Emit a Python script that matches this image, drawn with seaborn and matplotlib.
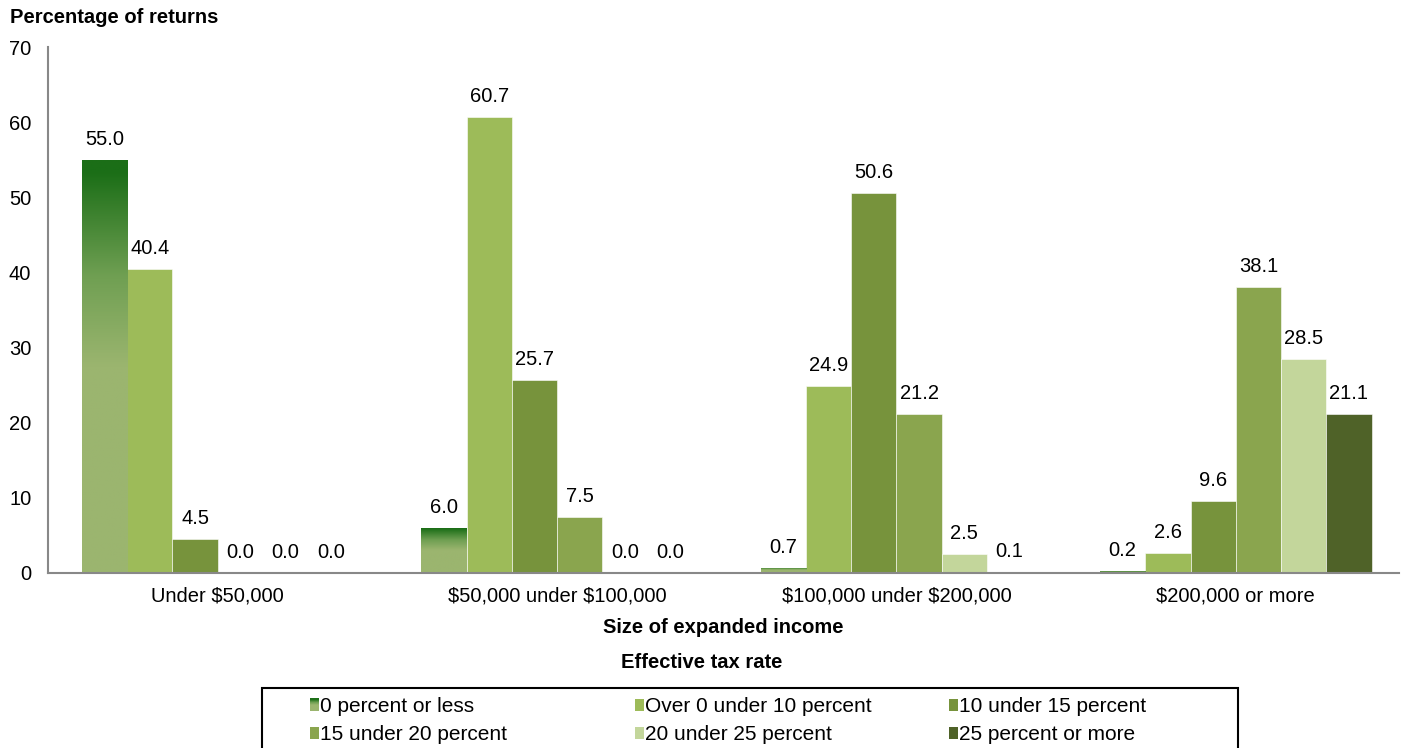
import numpy as np
import pandas as pd
import matplotlib
matplotlib.use("Agg")
import matplotlib.pyplot as plt
import seaborn as sns
from matplotlib.colors import LinearSegmentedColormap
from matplotlib.patches import Rectangle
from matplotlib.legend_handler import HandlerBase

categories = ["Under $50,000", "$50,000 under $100,000", "$100,000 under $200,000", "$200,000 or more"]
rates = ["0 percent or less", "Over 0 under 10 percent", "10 under 15 percent",
         "15 under 20 percent", "20 under 25 percent", "25 percent or more"]
v_0_or_less = [55.0, 6.0, 0.7, 0.2]
v_0_10 = [40.4, 60.7, 24.9, 2.6]
v_10_15 = [4.5, 25.7, 50.6, 9.6]
v_15_20 = [0.0, 7.5, 21.2, 38.1]
v_20_25 = [0.0, 0.0, 2.5, 28.5]
v_25_more = [0.0, 0.0, 0.1, 21.1]
yticks = [0, 10, 20, 30, 40, 50, 60, 70]

series = [v_0_or_less, v_0_10, v_10_15, v_15_20, v_20_25, v_25_more]
rows = []
for r, vals in zip(rates, series):
    for c, v in zip(categories, vals):
        rows.append({"cat": c, "rate": r, "val": v})
df = pd.DataFrame(rows)

colors = ["#9bb56f", "#9dbb59", "#77933c", "#8aa54e", "#c3d69b", "#4f6228"]
grad_cmap = LinearSegmentedColormap.from_list(
    "g", [(0.0, "#9bb56f"), (0.5, "#9bb56f"), (0.72, "#6f9f52"), (0.97, "#1b6e17"), (1.0, "#1b6e17")])

sns.set_style("white")
plt.rcParams["font.family"] = ["Liberation Sans", "DejaVu Sans"]
plt.rcParams["text.parse_math"] = False
plt.rcParams["text.color"] = "black"
plt.rcParams["axes.labelcolor"] = "black"
plt.rcParams["xtick.color"] = "black"
plt.rcParams["ytick.color"] = "black"

FS = 14.5

fig = plt.figure(figsize=(14.04, 7.48), dpi=100)
ax = fig.add_axes([0.0342, 0.234, 0.962, 0.703])

sns.barplot(data=df, x="cat", y="val", hue="rate", order=categories, hue_order=rates,
            palette=colors, width=0.8, saturation=1, ax=ax, legend=False,
            edgecolor="white", linewidth=0.4)

ax.set_yticks(yticks)
ax.tick_params(axis="y", direction="in", length=5, color="#888888", labelcolor="black",
               labelsize=FS, pad=12)
ax.tick_params(axis="x", length=0, labelsize=FS, pad=10, labelcolor="black")
for s in ["top", "right"]:
    ax.spines[s].set_visible(False)
for s in ["left", "bottom"]:
    ax.spines[s].set_color("#888888")
    ax.spines[s].set_linewidth(1.5)
ax.set_ylabel("")
ax.set_xlabel("Size of expanded income", fontsize=FS, fontweight="bold", labelpad=9)

grad = np.linspace(0, 1, 256).reshape(-1, 1)
for i, cont in enumerate(ax.containers):
    for bar in cont:
        h = bar.get_height()
        x0 = bar.get_x()
        w = bar.get_width()
        if i == 0 and h > 0:
            im = ax.imshow(grad, cmap=grad_cmap, aspect="auto", origin="lower",
                           extent=[x0, x0 + w, 0, h], zorder=bar.get_zorder() + 0.1)
            im.set_clip_path(bar)
        ax.annotate(f"{h:.1f}", (x0 + w / 2, h), xytext=(0, 8), textcoords="offset points",
                    ha="center", va="bottom", fontsize=FS)
ax.set_xlim(-0.5, 3.48)
ax.set_ylim(0, 70)

fig.text(0.007, 0.977, "Percentage of returns", fontsize=FS, fontweight="bold", ha="left", va="center")
fig.text(0.5, 1 - 663 / 748, "Effective tax rate", fontsize=FS, fontweight="bold", ha="center", va="center")


class GradHandler(HandlerBase):
    def create_artists(self, legend, orig_handle, xdescent, ydescent, width, height, fontsize, trans):
        arts = []
        n = 12
        for k in range(n):
            frac = (k + 0.5) / n
            r = Rectangle((-xdescent, -ydescent + height * k / n), width, height / n + 0.2,
                          facecolor=grad_cmap(frac), edgecolor="none", transform=trans)
            arts.append(r)
        return arts


handles = [Rectangle((0, 0), 1, 1, facecolor=c, edgecolor="none") for c in colors]
hmap = {handles[0]: GradHandler()}
col_x = [310, 635, 949]
for j in range(3):
    lg = fig.legend([handles[j], handles[j + 3]], [rates[j], rates[j + 3]], ncol=1,
                    loc="upper left", bbox_to_anchor=(col_x[j] / 1404, 1 - 697 / 748),
                    fontsize=15, frameon=False, handlelength=0.42, handleheight=0.5,
                    handletextpad=0.08, borderpad=0, borderaxespad=0, labelspacing=0.45,
                    handler_map=hmap)

fig.patches.append(Rectangle((262 / 1404, -0.02), (1238 - 262) / 1404, (748 - 688) / 748 + 0.02,
                             transform=fig.transFigure, fill=False, edgecolor="black",
                             linewidth=1.5, figure=fig))

fig.savefig("out.png", dpi=100)
